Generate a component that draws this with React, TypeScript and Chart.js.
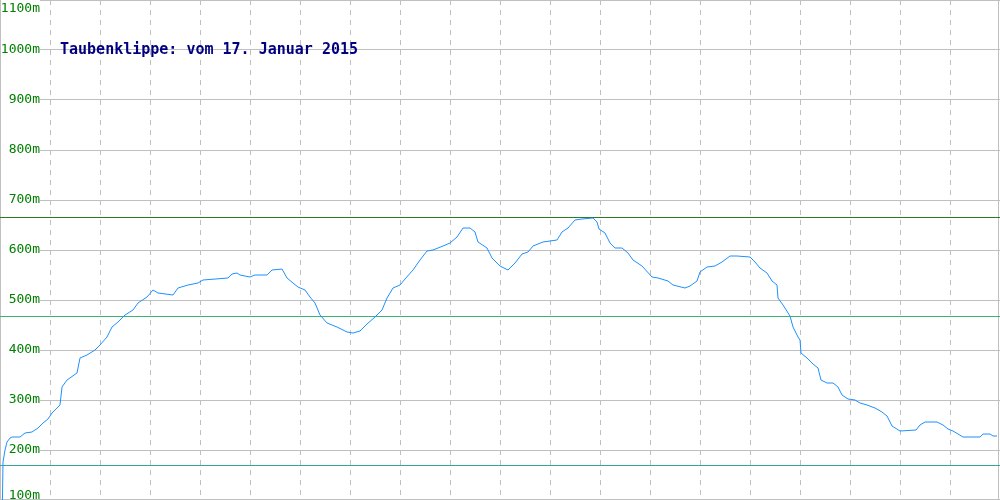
import React, { useEffect, useRef } from "react";
import { Chart, registerables } from "chart.js";

Chart.register(...registerables);

const titleText = "Taubenklippe: vom 17. Januar 2015";

// x position along the track (0..1000) and elevation in metres
const trackX = [
  2, 3, 5, 7, 10, 12, 20, 25, 32, 38, 43, 48, 52, 57, 60, 62, 67, 77, 80, 87, 95, 100,
  107, 112, 118, 125, 133, 138, 147, 153, 158, 173, 178, 188, 198, 203, 228, 232, 237, 240,
  250, 255, 267, 272, 282, 287, 293, 298, 305, 310, 315, 320, 327, 337, 347, 353, 360, 367,
  375, 382, 387, 393, 400, 405, 413, 420, 427, 433, 443, 450, 457, 463, 470, 475, 478, 487,
  492, 500, 508, 515, 522, 528, 533, 543, 550, 557, 562, 568, 575, 582, 593, 597, 599, 605,
  610, 615, 622, 628, 633, 642, 652, 658, 668, 673, 685, 690, 697, 700, 707, 715, 722, 730,
  737, 750, 755, 760, 767, 772, 777, 778, 783, 790, 793, 798, 800, 801, 807, 813, 818, 821,
  827, 833, 838, 842, 848, 855, 860, 867, 875, 882, 887, 892, 900, 916, 920, 925, 937, 943,
  948, 953, 958, 963, 980, 983, 990, 993, 997,
];
const elevation = [
  40, 176, 200, 216, 224, 226, 226, 234, 236, 244, 254, 262, 274, 284, 290, 326, 340, 354, 384, 390, 400, 410,
  426, 446, 456, 470, 480, 494, 506, 520, 514, 510, 524, 530, 534, 540, 544, 552, 554, 550,
  546, 550, 550, 560, 562, 544, 534, 526, 520, 506, 494, 470, 454, 446, 436, 434, 438, 452,
  466, 480, 504, 524, 530, 542, 560, 580, 598, 600, 608, 614, 626, 644, 644, 636, 616, 604,
  584, 568, 560, 574, 592, 596, 608, 616, 618, 620, 636, 644, 660, 662, 664, 656, 642, 634,
  614, 604, 604, 594, 580, 568, 546, 544, 538, 530, 524, 528, 538, 556, 566, 568, 576, 588,
  588, 586, 576, 564, 554, 538, 530, 504, 490, 468, 446, 426, 420, 394, 384, 372, 364, 340,
  334, 334, 326, 310, 302, 300, 294, 290, 284, 276, 268, 248, 238, 240, 250, 256, 256, 250,
  242, 238, 232, 226, 226, 232, 232, 228, 228,
];

const maxElevation = 665;
const avgElevation = 467;
const minElevation = 169;

const yTicks = [100, 200, 300, 400, 500, 600, 700, 800, 900, 1000, 1100];

const overlayPlugin = {
  id: "overlay",
  beforeDatasetsDraw(chart: any) {
    const { ctx, scales } = chart;
    const y = scales.y;
    ctx.save();
    ctx.font = "13px 'DejaVu Sans Mono', monospace";
    ctx.textAlign = "right";
    ctx.textBaseline = "alphabetic";
    for (const v of yTicks) {
      const py = y.getPixelForValue(v);
      ctx.fillStyle = "#ffffff";
      ctx.fillRect(1, py - 6, 39, 12);
      let base = py + 3;
      if (base < 12) base = 12;
      if (base > 499) base = 499;
      ctx.fillStyle = "#008000";
      ctx.fillText(v + "m", 40, base);
    }
    // borders
    ctx.strokeStyle = "#c0c0c0";
    ctx.lineWidth = 1;
    ctx.beginPath();
    ctx.moveTo(0.5, 0);
    ctx.lineTo(0.5, 500);
    ctx.moveTo(998.5, 0);
    ctx.lineTo(998.5, 500);
    ctx.moveTo(0, 499.5);
    ctx.lineTo(1000, 499.5);
    ctx.stroke();
    ctx.restore();
  },
  afterDatasetsDraw(chart: any) {
    const { ctx } = chart;
    ctx.save();
    ctx.font = "bold 15px 'DejaVu Sans Mono', monospace";
    ctx.fillStyle = "#000080";
    ctx.textAlign = "left";
    ctx.textBaseline = "alphabetic";
    ctx.fillText(titleText, 60, 54);
    ctx.restore();
  },
};

export default function App() {
  const ref = useRef<HTMLCanvasElement | null>(null);
  useEffect(() => {
    document.body.style.margin = "0";
    const canvas = ref.current;
    if (!canvas) return;
    const line = (v: number) => [
      { x: 0, y: v },
      { x: 1000, y: v },
    ];
    const chart = new Chart(canvas, {
      type: "line",
      data: {
        datasets: [
          {
            label: "Höhe",
            data: trackX.map((x, i) => ({ x, y: elevation[i] })),
            borderColor: "#1e90ff",
            borderWidth: 1,
            pointRadius: 0,
            tension: 0,
            fill: false,
          },
          {
            label: "max",
            data: line(maxElevation),
            borderColor: "#2a7a2a",
            borderWidth: 1,
            pointRadius: 0,
          },
          {
            label: "avg",
            data: line(avgElevation),
            borderColor: "#3cb371",
            borderWidth: 1,
            pointRadius: 0,
          },
          {
            label: "min",
            data: line(minElevation),
            borderColor: "#33a898",
            borderWidth: 1,
            pointRadius: 0,
          },
        ],
      },
      options: {
        responsive: false,
        animation: false,
        layout: { padding: 0 },
        plugins: {
          legend: { display: false },
          title: { display: false },
          tooltip: { enabled: false },
        },
        scales: {
          x: {
            type: "linear",
            min: 0,
            max: 1000,
            ticks: { display: false, stepSize: 50 },
            grid: {
              drawTicks: false,
              color: (c: any) =>
                c.tick && (c.tick.value === 0 || c.tick.value === 1000) ? "rgba(0,0,0,0)" : "#c0c0c0",
            },
            border: { display: false, dash: [5, 5] },
            afterFit: (s: any) => {
              s.height = 0;
            },
          },
          y: {
            type: "linear",
            min: 100,
            max: 1100,
            ticks: { display: false, stepSize: 100 },
            grid: { drawTicks: false, color: "#c0c0c0" },
            border: { display: false },
            afterFit: (s: any) => {
              s.width = 0;
            },
          },
        },
      },
      plugins: [overlayPlugin],
    });
    return () => chart.destroy();
  }, []);
  return (
    <canvas
      ref={ref}
      width={1000}
      height={500}
      style={{ position: "fixed", top: 0, left: 0, width: 1000, height: 500 }}
    />
  );
}
